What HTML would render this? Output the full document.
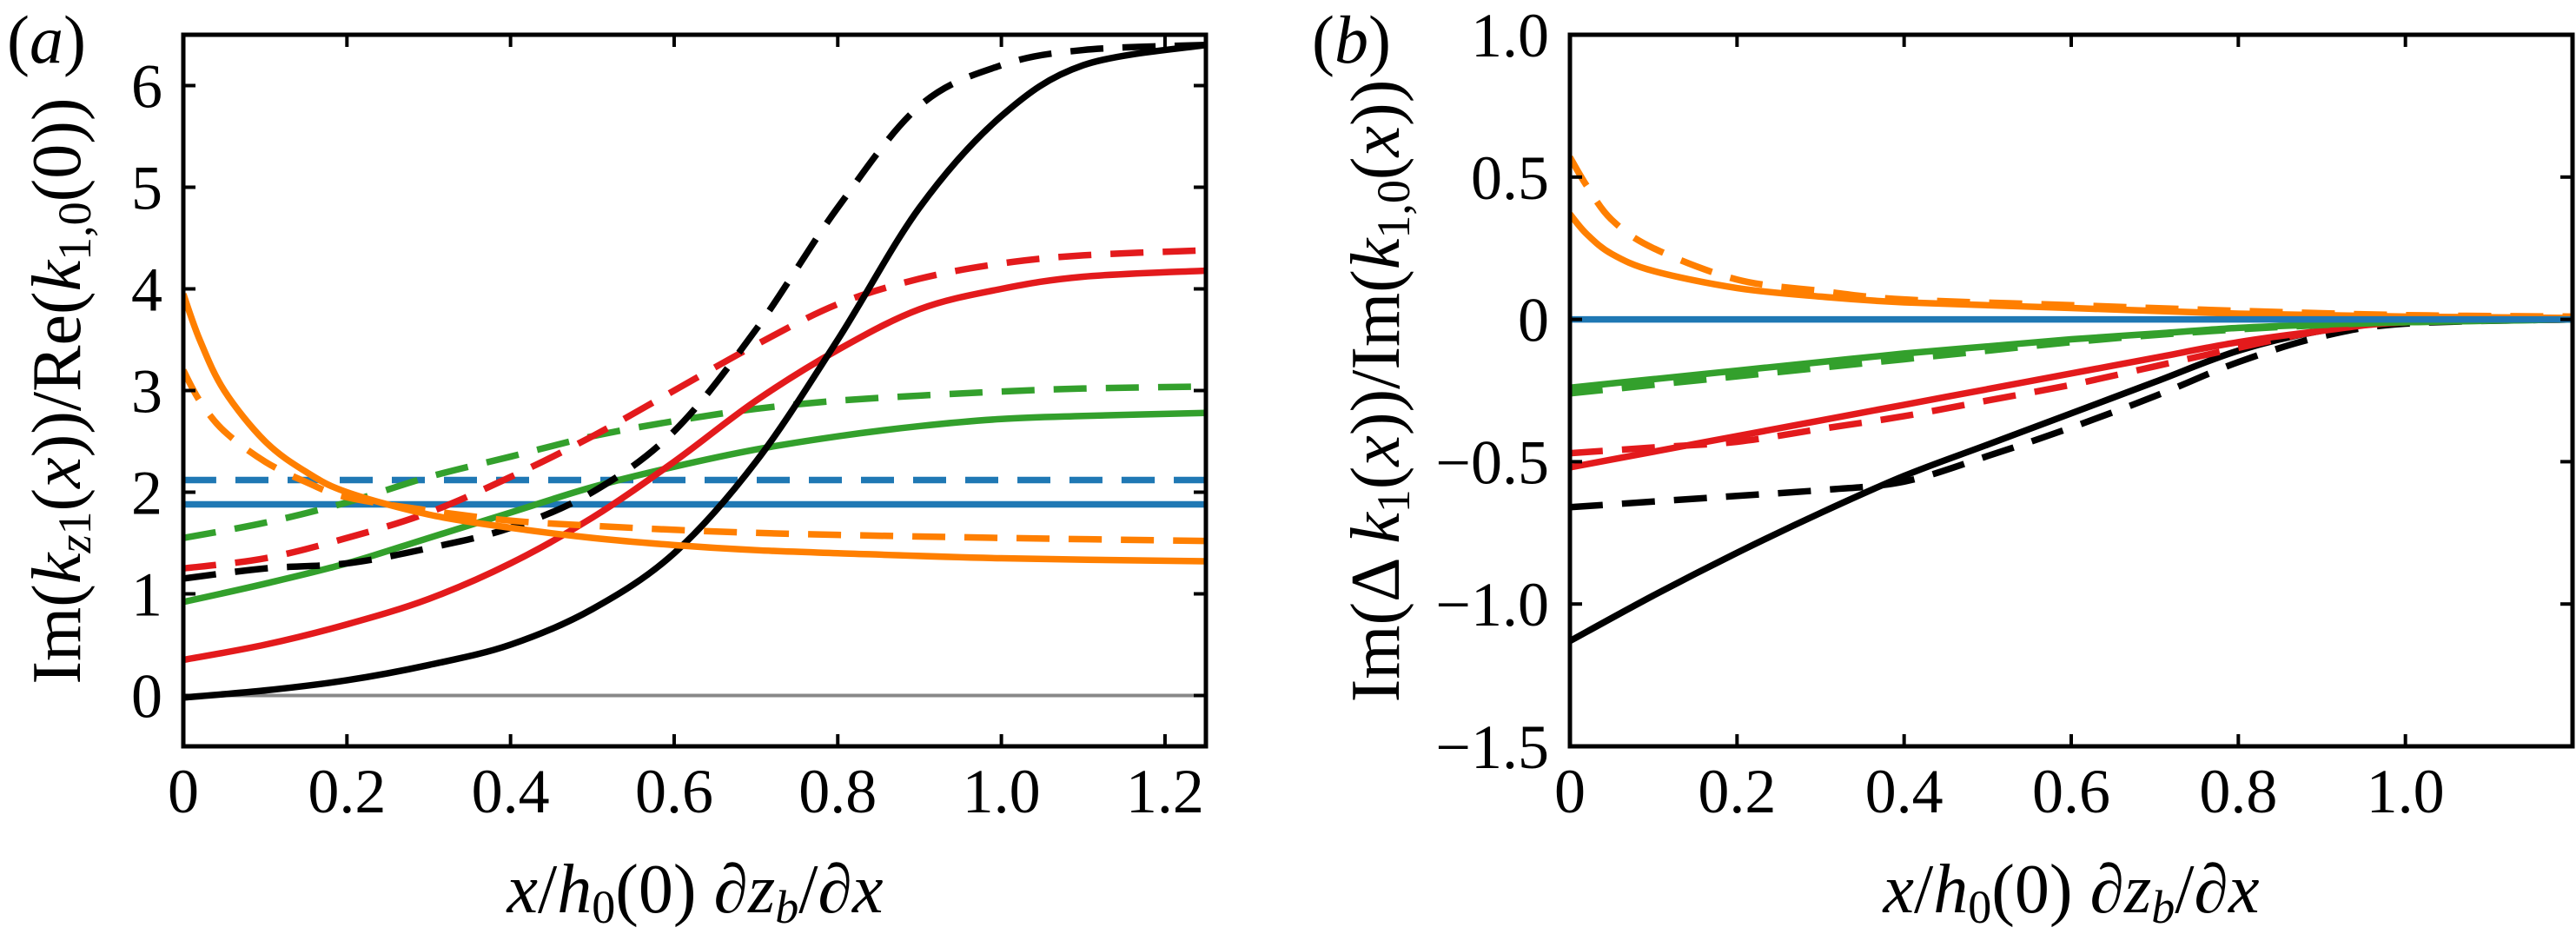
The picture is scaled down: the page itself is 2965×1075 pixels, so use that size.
<!DOCTYPE html>
<html><head><meta charset="utf-8"><style>
html,body{margin:0;padding:0;background:#fff;}
svg{display:block;font-family:"Liberation Serif",serif;}
</style></head><body>
<svg id="fig" width="2965" height="1075" viewBox="0 0 2965 1075" xmlns="http://www.w3.org/2000/svg"></svg>
<script>
// ---------- Panel (a) data ----------
const aXTicks=[0,0.2,0.4,0.6,0.8,1.0,1.2];
const aXTickLabels=["0","0.2","0.4","0.6","0.8","1.0","1.2"];
const aYTicks=[0,1,2,3,4,5,6];
const aYTickLabels=["0","1","2","3","4","5","6"];
const aX=[0,0.1,0.2,0.3,0.4,0.5,0.6,0.7,0.8,0.9,1.0,1.1,1.25];
const aBlackSolid=[-0.02,0.05,0.15,0.3,0.5,0.85,1.4,2.3,3.5,4.8,5.7,6.2,6.4];
const aBlackDashed=[1.15,1.25,1.3,1.45,1.65,2.0,2.6,3.6,4.8,5.8,6.2,6.35,6.4];
const aRedSolid=[0.35,0.5,0.7,0.95,1.3,1.75,2.3,2.9,3.4,3.8,4.0,4.12,4.18];
const aRedDashed=[1.25,1.35,1.55,1.8,2.15,2.55,3.0,3.45,3.85,4.1,4.25,4.33,4.38];
const aGreenSolid=[0.92,1.1,1.3,1.55,1.8,2.05,2.25,2.42,2.55,2.65,2.72,2.75,2.78];
const aGreenDashed=[1.55,1.7,1.9,2.15,2.35,2.55,2.7,2.82,2.9,2.95,2.99,3.02,3.04];
const aBlueSolid=[1.88,1.88,1.88,1.88,1.88,1.88,1.88,1.88,1.88,1.88,1.88,1.88,1.88];
const aBlueDashed=[2.12,2.12,2.12,2.12,2.12,2.12,2.12,2.12,2.12,2.12,2.12,2.12,2.12];
const aOrX=[0,0.02,0.05,0.1,0.15,0.2,0.3,0.4,0.5,0.6,0.7,0.8,1.0,1.25];
const aOrangeSolid=[3.95,3.5,3.0,2.5,2.2,2.0,1.78,1.65,1.55,1.48,1.43,1.4,1.35,1.32];
const aOrangeDashed=[3.2,2.9,2.6,2.3,2.1,1.95,1.82,1.72,1.67,1.63,1.6,1.58,1.55,1.52];
const aGray=[0,0,0,0,0,0,0,0,0,0,0,0,0];
// ---------- Panel (b) data ----------
const bXTicks=[0,0.2,0.4,0.6,0.8,1.0];
const bXTickLabels=["0","0.2","0.4","0.6","0.8","1.0"];
const bYTicks=[-1.5,-1.0,-0.5,0,0.5,1.0];
const bYTickLabels=["\u22121.5","\u22121.0","\u22120.5","0","0.5","1.0"];
const bOrX=[0,0.02,0.05,0.1,0.2,0.3,0.4,0.6,0.8,1.0,1.2];
const bOrangeSolid=[0.37,0.3,0.23,0.17,0.11,0.08,0.06,0.04,0.02,0.01,0.005];
const bOrangeDashed=[0.57,0.47,0.35,0.25,0.14,0.1,0.07,0.05,0.03,0.015,0.01];
const bX=[0,0.1,0.2,0.3,0.4,0.5,0.6,0.7,0.8,0.9,1.0,1.2];
const bBlue=[0,0,0,0,0,0,0,0,0,0,0,0];
const bGreenSolid=[-0.24,-0.21,-0.18,-0.15,-0.12,-0.095,-0.07,-0.05,-0.03,-0.018,-0.01,0];
const bGreenDashed=[-0.26,-0.23,-0.2,-0.17,-0.14,-0.11,-0.08,-0.055,-0.035,-0.02,-0.01,0];
const bRedSolid=[-0.52,-0.465,-0.41,-0.355,-0.3,-0.245,-0.19,-0.135,-0.08,-0.04,-0.01,0];
const bRedDashed=[-0.47,-0.45,-0.43,-0.385,-0.34,-0.285,-0.23,-0.165,-0.1,-0.04,-0.01,0];
const bBlackSolid=[-1.13,-0.97,-0.82,-0.68,-0.55,-0.44,-0.33,-0.22,-0.11,-0.04,-0.01,0];
const bBlackDashed=[-0.66,-0.64,-0.62,-0.6,-0.57,-0.48,-0.38,-0.27,-0.15,-0.06,-0.015,0];

const NS="http://www.w3.org/2000/svg";
const svg=document.getElementById('fig');
function mk(tag,attrs,parent){const e=document.createElementNS(NS,tag);for(const k in attrs)e.setAttribute(k,attrs[k]);(parent||svg).appendChild(e);return e;}
function smooth(pts){let d="M"+pts[0][0]+","+pts[0][1];for(let i=0;i<pts.length-1;i++){const p0=pts[Math.max(0,i-1)],p1=pts[i],p2=pts[i+1],p3=pts[Math.min(pts.length-1,i+2)];const c1x=p1[0]+(p2[0]-p0[0])/6,c1y=p1[1]+(p2[1]-p0[1])/6,c2x=p2[0]-(p3[0]-p1[0])/6,c2y=p2[1]-(p3[1]-p1[1])/6;d+=" C"+c1x+","+c1y+" "+c2x+","+c2y+" "+p2[0]+","+p2[1];}return d;}

function panel(cfg){
  const g=mk('g',{});
  
  
  const sx=v=>cfg.L+(v-cfg.x0)/(cfg.x1-cfg.x0)*(cfg.R-cfg.L);
  const sy=v=>cfg.B-(v-cfg.y0)/(cfg.y1-cfg.y0)*(cfg.B-cfg.T);
  const clip='clip-'+cfg.name;
  const cp=mk('clipPath',{id:clip},g);mk('rect',{x:cfg.L,y:cfg.T,width:cfg.R-cfg.L,height:cfg.B-cfg.T},cp);
  const lg=mk('g',{'clip-path':'url(#'+clip+')'},g);
  
  
  cfg.series.forEach(s=>{
    const pts=s.x.map((xv,i)=>[sx(xv),sy(s.y[i])]);
    const p=mk('path',{d:smooth(pts),fill:'none',stroke:s.c,'stroke-width':s.w||7.5,'stroke-dasharray':s.dash?'38,22':'none','stroke-linecap':'butt'},lg);
    
    
  });
  const fr=mk('rect',{x:cfg.L,y:cfg.T,width:cfg.R-cfg.L,height:cfg.B-cfg.T,fill:'none',stroke:'#000','stroke-width':5},g);
  
  
  cfg.xt.forEach((v,i)=>{
    const x=sx(v);
    mk('line',{x1:x,x2:x,y1:cfg.B,y2:cfg.B-14,stroke:'#000','stroke-width':4},g);
    mk('line',{x1:x,x2:x,y1:cfg.T,y2:cfg.T+14,stroke:'#000','stroke-width':4},g);
    const t=mk('text',{x:x,y:cfg.B+76,'font-size':72,'text-anchor':'middle'},g);t.textContent=cfg.xl[i];
    
    
  });
  cfg.yt.forEach((v,i)=>{
    const y=sy(v);
    mk('line',{x1:cfg.L,x2:cfg.L+14,y1:y,y2:y,stroke:'#000','stroke-width':4},g);
    mk('line',{x1:cfg.R,x2:cfg.R-14,y1:y,y2:y,stroke:'#000','stroke-width':4},g);
    const t=mk('text',{x:cfg.L-24,y:y+25,'font-size':72,'text-anchor':'end'},g);t.textContent=cfg.yl[i];
    
    
  });
}
const K='#000',Rd='#e31a1c',G='#33a02c',Bl='#1f78b4',O='#ff7f00';
panel({name:'panel-a',L:211,R:1388,T:40,B:859,x0:0,x1:1.25,y0:-0.5,y1:6.5,xt:aXTicks,xl:aXTickLabels,yt:aYTicks,yl:aYTickLabels,series:[
 {n:'gray-zero-line',x:aX,y:aGray,c:'#888',w:4},
 {n:'blue-dashed',x:aX,y:aBlueDashed,c:Bl,dash:1},{n:'blue-solid',x:aX,y:aBlueSolid,c:Bl},
 {n:'green-dashed',x:aX,y:aGreenDashed,c:G,dash:1},{n:'green-solid',x:aX,y:aGreenSolid,c:G},
 {n:'red-dashed',x:aX,y:aRedDashed,c:Rd,dash:1},{n:'red-solid',x:aX,y:aRedSolid,c:Rd},
 {n:'black-dashed',x:aX,y:aBlackDashed,c:K,dash:1},{n:'black-solid',x:aX,y:aBlackSolid,c:K},
 {n:'orange-dashed',x:aOrX,y:aOrangeDashed,c:O,dash:1},{n:'orange-solid',x:aOrX,y:aOrangeSolid,c:O}]});
panel({name:'panel-b',L:1807,R:2961,T:40,B:859,x0:0,x1:1.2,y0:-1.5,y1:1.0,xt:bXTicks,xl:bXTickLabels,yt:bYTicks,yl:bYTickLabels,series:[
 {n:'black-dashed',x:bX,y:bBlackDashed,c:K,dash:1},{n:'black-solid',x:bX,y:bBlackSolid,c:K},
 {n:'red-dashed',x:bX,y:bRedDashed,c:Rd,dash:1},{n:'red-solid',x:bX,y:bRedSolid,c:Rd},
 {n:'green-dashed',x:bX,y:bGreenDashed,c:G,dash:1},{n:'green-solid',x:bX,y:bGreenSolid,c:G},
 {n:'orange-dashed',x:bOrX,y:bOrangeDashed,c:O,dash:1},{n:'orange-solid',x:bOrX,y:bOrangeSolid,c:O},
 {n:'blue-solid',x:bX,y:bBlue,c:Bl}]});
</script>
<div style="position:absolute;left:0;top:0;width:2965px;height:1075px;pointer-events:none">
<svg width="2965" height="1075" style="font-family:'Liberation Serif',serif">
 <text x="8" y="72" font-size="78">(<tspan font-style="italic">a</tspan>)</text>
 <text x="1510" y="72" font-size="78">(<tspan font-style="italic">b</tspan>)</text>
 <text transform="translate(92,450) rotate(-90)" font-size="80" text-anchor="middle">Im(<tspan font-style="italic">k</tspan><tspan font-size="54" dy="12"><tspan font-style="italic">z</tspan>1</tspan><tspan dy="-12">(</tspan><tspan font-style="italic">x</tspan>))/Re(<tspan font-style="italic">k</tspan><tspan font-size="54" dy="12">1,0</tspan><tspan dy="-12">(0))</tspan></text>
 <text transform="translate(1610,450) rotate(-90)" font-size="80" text-anchor="middle">Im(Δ <tspan font-style="italic">k</tspan><tspan font-size="54" dy="12">1</tspan><tspan dy="-12">(</tspan><tspan font-style="italic">x</tspan>))/Im(<tspan font-style="italic">k</tspan><tspan font-size="54" dy="12">1,0</tspan><tspan dy="-12">(</tspan><tspan font-style="italic">x</tspan>))</text>
 <text x="800" y="1050" font-size="80" text-anchor="middle"><tspan font-style="italic">x</tspan>/<tspan font-style="italic">h</tspan><tspan font-size="54" dy="12">0</tspan><tspan dy="-12">(0) ∂</tspan><tspan font-style="italic">z</tspan><tspan font-size="54" dy="12" font-style="italic">b</tspan><tspan dy="-12">/∂</tspan><tspan font-style="italic">x</tspan></text>
 <text x="2384" y="1050" font-size="80" text-anchor="middle"><tspan font-style="italic">x</tspan>/<tspan font-style="italic">h</tspan><tspan font-size="54" dy="12">0</tspan><tspan dy="-12">(0) ∂</tspan><tspan font-style="italic">z</tspan><tspan font-size="54" dy="12" font-style="italic">b</tspan><tspan dy="-12">/∂</tspan><tspan font-style="italic">x</tspan></text>
</svg></div>
</body></html>
